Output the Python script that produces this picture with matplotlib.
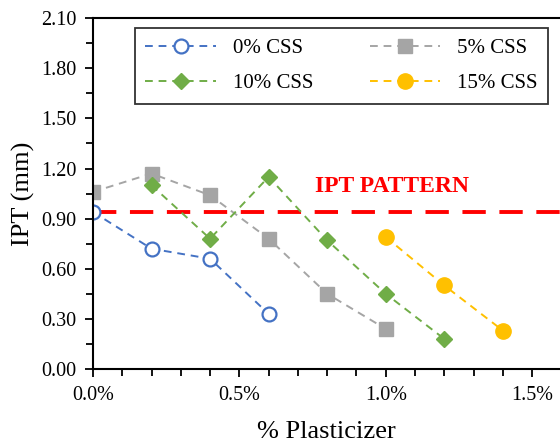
"""IPT vs plasticizer content for different CSS levels"""
import matplotlib
matplotlib.use('Agg')
import matplotlib.pyplot as plt
from matplotlib.ticker import MultipleLocator, PercentFormatter

plt.rcParams['font.family'] = ['Liberation Serif', 'DejaVu Serif']

# Data
x_0 = [0.000, 0.002, 0.004, 0.006]
ipt_0 = [0.94, 0.72, 0.66, 0.33]

x_5 = [0.000, 0.002, 0.004, 0.006, 0.008, 0.010]
ipt_5 = [1.06, 1.17, 1.04, 0.78, 0.45, 0.24]

x_10 = [0.002, 0.004, 0.006, 0.008, 0.010, 0.012]
ipt_10 = [1.10, 0.78, 1.15, 0.77, 0.45, 0.18]

x_15 = [0.010, 0.012, 0.014]
ipt_15 = [0.79, 0.50, 0.23]

ipt_pattern = 0.94

fig = plt.figure(figsize=(5.6, 4.43), dpi=100)
ax = fig.add_axes([0.166, 0.167, 0.834, 0.792])

l0, = ax.plot(x_0, ipt_0, linestyle=(0, (4, 3)), color='#4472C4', lw=1.4,
              marker='o', ms=10, mfc='white', mec='#4472C4', mew=1.6, label='0% CSS')
l5, = ax.plot(x_5, ipt_5, linestyle=(0, (4, 3)), color='#A5A5A5', lw=1.4,
              marker='s', ms=10, mfc='#A5A5A5', mec='#A5A5A5', label='5% CSS')
l10, = ax.plot(x_10, ipt_10, linestyle=(0, (4, 3)), color='#70AD47', lw=1.4,
               marker='D', ms=8, mfc='#70AD47', mec='#70AD47', label='10% CSS')
l15, = ax.plot(x_15, ipt_15, linestyle=(0, (4, 3)), color='#FFC000', lw=1.4,
               marker='o', ms=11, mfc='#FFC000', mec='#FFC000', label='15% CSS')

# IPT pattern reference line
ax.axhline(ipt_pattern, color='#FF0000', lw=2.8, linestyle=(0, (6, 3.5)), zorder=1)
ax.text(0.0102, 1.09, 'IPT PATTERN', color='#FF0000', fontsize=17,
        fontweight='bold', ha='center', va='center')

ax.set_xlim(0, 0.01595)
ax.set_ylim(0, 2.10)
ax.xaxis.set_major_locator(MultipleLocator(0.005))
ax.xaxis.set_minor_locator(MultipleLocator(0.001))
ax.xaxis.set_major_formatter(PercentFormatter(xmax=1, decimals=1))
ax.yaxis.set_major_locator(MultipleLocator(0.30))
ax.yaxis.set_minor_locator(MultipleLocator(0.15))
ax.yaxis.set_major_formatter(plt.FormatStrFormatter('%.2f'))

ax.tick_params(which='both', direction='out', width=1.3, labelsize=14.5, colors='black')
ax.tick_params(which='major', length=6, pad=6)
ax.tick_params(which='minor', length=5)

ax.spines['right'].set_visible(False)
for s in ['left', 'bottom', 'top']:
    ax.spines[s].set_linewidth(1.5)

ax.set_xlabel('% Plasticizer', fontsize=19, labelpad=12)
ax.set_ylabel('IPT (mm)', fontsize=19, labelpad=4)

# matplotlib fills legend columns first; order so rows read 0%/5%, 10%/15%
leg = ax.legend([l0, l10, l5, l15], ['0% CSS', '10% CSS', '5% CSS', '15% CSS'],
                ncol=2, loc='upper left', bbox_to_anchor=(0.09, 0.972),
                borderaxespad=0,
                fontsize=15, frameon=True, fancybox=False, edgecolor='black',
                handlelength=3.4, handletextpad=0.8, columnspacing=2.7,
                borderpad=0.5, labelspacing=0.75)
leg.get_frame().set_linewidth(1.3)

plt.savefig('out.png', dpi=100)
plt.close()
